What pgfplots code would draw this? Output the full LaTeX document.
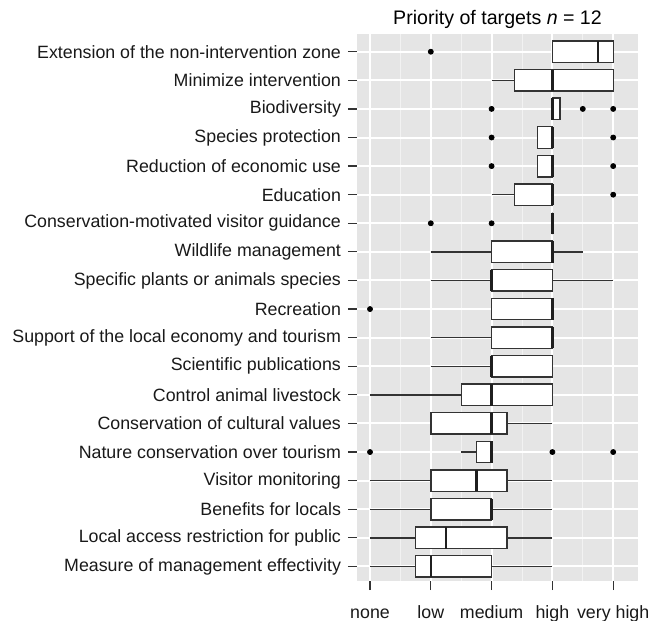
\documentclass[border=0pt]{standalone}
\usepackage{fontspec}
\setmainfont{Liberation Sans}
\usepackage{pgfplots}
\usepgfplotslibrary{statistics}
\pgfplotsset{compat=1.18}
\definecolor{panelbg}{HTML}{E5E5E5}
\definecolor{minorgrid}{HTML}{F2F2F2}
\definecolor{boxline}{HTML}{333333}
\newcommand{\bp}[6]{\addplot[boxline, solid, boxplot prepared={draw position=#1, lower whisker=#2, lower quartile=#3, median=#4, upper quartile=#5, upper whisker=#6}] coordinates {};}
\begin{document}
\begin{tikzpicture}
\begin{axis}[
  at={(0,0)}, anchor=south west,
  scale only axis, width=140.5pt, height=273.5pt,
  xmin=-0.214, xmax=4.408, ymin=0.49, ymax=19.62,
  axis background/.style={fill=panelbg},
  axis line style={draw=none},
  xtick={0,1,2,3,4},
  xticklabels={none,low,medium,high,very high},
  minor xtick={0.5,1.5,2.5,3.5},
  ytick={1,...,19},
  yticklabels={
    Measure of management effectivity,
    Local access restriction for public,
    Benefits for locals,
    Visitor monitoring,
    Nature conservation over tourism,
    Conservation of cultural values,
    Control animal livestock,
    Scientific publications,
    Support of the local economy and tourism,
    Recreation,
    Specific plants or animals species,
    Wildlife management,
    Conservation-motivated visitor guidance,
    Education,
    Reduction of economic use,
    Species protection,
    Biodiversity,
    Minimize intervention,
    Extension of the non-intervention zone},
  xmajorgrids, xminorgrids, ymajorgrids,
  major grid style={white, line width=1pt},
  minor grid style={minorgrid, line width=0.5pt},
  tick align=outside, xtick pos=bottom, ytick pos=left,
  major tick length=4.5pt, minor tick length=0pt,
  tick style={boxline, line width=0.6pt},
  ticklabel style={font=\fontsize{8.9}{10}\selectfont, text=black!90},
  xticklabel style={text height=6.6pt, text depth=1.9pt, yshift=-4pt},
  /pgf/number format/assume math mode=true,
  title={Priority of targets \textit{n} = 12},
  title style={font=\fontsize{9.8}{11}\selectfont, yshift=-7pt},
  boxplot/draw direction=x,
  boxplot/box extend=0.75,
  boxplot/whisker extend=0,
  boxplot/every box/.style={draw=boxline, fill=white, line width=0.7pt},
  boxplot/every whisker/.style={draw=boxline, line width=0.7pt},
  boxplot/every median/.style={draw=boxline!60!black, line width=1.3pt},
]
\bp{19}{3}{3}{3.75}{4}{4}
\bp{18}{2}{2.375}{3}{4}{4}
\bp{17}{3}{3}{3}{3.125}{3.125}
\bp{16}{2.75}{2.75}{3}{3}{3}
\bp{15}{2.75}{2.75}{3}{3}{3}
\bp{14}{2}{2.375}{3}{3}{3}
\bp{13}{3}{3}{3}{3}{3}
\bp{12}{1}{2}{3}{3}{3.5}
\bp{11}{1}{2}{2}{3}{4}
\bp{10}{2}{2}{3}{3}{3}
\bp{9}{1}{2}{3}{3}{3}
\bp{8}{1}{2}{2}{3}{3}
\bp{7}{0}{1.5}{2}{3}{3}
\bp{6}{1}{1}{2}{2.25}{3}
\bp{5}{1.5}{1.75}{2}{2}{2}
\bp{4}{0}{1}{1.75}{2.25}{3}
\bp{3}{0}{1}{2}{2}{3}
\bp{2}{0}{0.75}{1.25}{2.25}{3}
\bp{1}{0}{0.75}{1}{2}{3}
\addplot[only marks, mark=*, mark size=1.25pt, black] coordinates {
  (1,19) (2,17) (3.5,17) (4,17) (2,16) (4,16) (2,15) (4,15) (4,14)
  (1,13) (2,13) (0,10) (0,5) (3,5) (4,5)};
\end{axis}
\pgfresetboundingbox
\useasboundingbox (-178.5pt,-19.5pt) rectangle (152.5pt,290.5pt);
\end{tikzpicture}
\end{document}
